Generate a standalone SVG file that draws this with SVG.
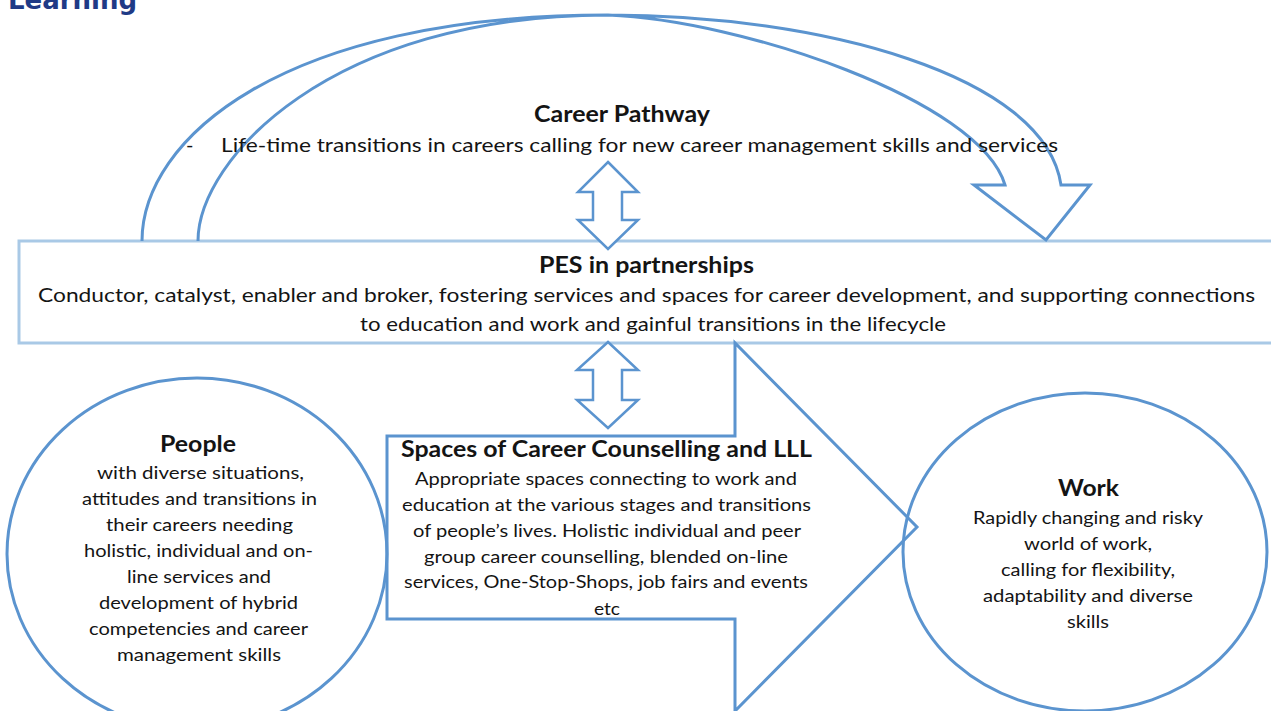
<svg xmlns="http://www.w3.org/2000/svg" width="1271" height="711" viewBox="0 0 1271 711">
<style>
.ln{fill:none;stroke:#5b94cf;stroke-width:3;stroke-linejoin:miter}
.dbl{fill:#ffffff;stroke:#5b94cf;stroke-width:2.5}
.box{fill:#ffffff;stroke:#a9c9e6;stroke-width:3}
.t{font-family:Lato,"Liberation Sans",sans-serif;fill:#141414}
.b{font-weight:bold}
.h{font-size:22px}
.m{font-size:20px}
.s{font-size:18px}
</style>
<rect width="1271" height="711" fill="#ffffff"/>
<text x="8" y="9" font-family="'DejaVu Sans',sans-serif" font-weight="bold" font-size="26" fill="#1f3a86">Learning</text>

<g id="pes">
  <rect class="box" x="19" y="241" width="1270" height="102"/>
  <text class="t b h" x="539" y="273" textLength="215" lengthAdjust="spacingAndGlyphs">PES in partnerships</text>
  <text class="t m" x="38" y="302" textLength="1217" lengthAdjust="spacingAndGlyphs">Conductor, catalyst, enabler and broker, fostering services and spaces for career development, and supporting connections</text>
  <text class="t m" x="360" y="331" textLength="586" lengthAdjust="spacingAndGlyphs">to education and work and gainful transitions in the lifecycle</text>
</g>

<g id="connectors">
  <path id="career-arc" class="ln" d="M142,241 C142,140 280,15 608,15 C820,15 1045,75 1061,185 L1090,185 L1046,240 L974,185 L1005,185 C980,100 740,20 608,15 C330,15 198,160 198,241"/>
  <path id="dbl-upper" class="dbl" d="M608,162 L638,192 L622,192 L622,220 L638,220 L608,249 L578,220 L593,220 L593,192 L578,192 Z"/>
  <path id="dbl-lower" class="dbl" d="M608,342 L638,370 L622,370 L622,400 L638,400 L608,428 L577,400 L593,400 L593,370 L577,370 Z"/>
</g>

<g id="career-pathway">
  <text class="t b h" x="534" y="122" textLength="176" lengthAdjust="spacingAndGlyphs">Career Pathway</text>
  <text class="t m" x="186" y="152">-</text>
  <text class="t m" x="221" y="152" textLength="837" lengthAdjust="spacingAndGlyphs">Life-time transitions in careers calling for new career management skills and services</text>
</g>

<g id="spaces">
  <path class="ln" d="M387,436 L735,436 L735,343 L917,527 L735,711 L735,619 L387,619 Z"/>
  <text class="t b h" x="401" y="457" textLength="411" lengthAdjust="spacingAndGlyphs">Spaces of Career Counselling and LLL</text>
  <text class="t s" x="415" y="485" textLength="382" lengthAdjust="spacingAndGlyphs">Appropriate spaces connecting to work and</text>
  <text class="t s" x="402" y="511" textLength="409" lengthAdjust="spacingAndGlyphs">education at the various stages and transitions</text>
  <text class="t s" x="413" y="537" textLength="388" lengthAdjust="spacingAndGlyphs">of people’s lives. Holistic individual and peer</text>
  <text class="t s" x="424" y="563" textLength="364" lengthAdjust="spacingAndGlyphs">group career counselling, blended on-line</text>
  <text class="t s" x="404" y="588" textLength="404" lengthAdjust="spacingAndGlyphs">services, One-Stop-Shops, job fairs and events</text>
  <text class="t s" x="594" y="615" textLength="26" lengthAdjust="spacingAndGlyphs">etc</text>
</g>

<g id="people">
  <ellipse class="ln" cx="197" cy="554" rx="190" ry="176"/>
  <text class="t b h" x="160" y="452" textLength="76" lengthAdjust="spacingAndGlyphs">People</text>
  <text class="t s" x="97" y="479" textLength="207" lengthAdjust="spacingAndGlyphs">with diverse situations,</text>
  <text class="t s" x="82" y="505" textLength="235" lengthAdjust="spacingAndGlyphs">attitudes and transitions in</text>
  <text class="t s" x="106" y="531" textLength="187" lengthAdjust="spacingAndGlyphs">their careers needing</text>
  <text class="t s" x="84" y="557" textLength="229" lengthAdjust="spacingAndGlyphs">holistic, individual and on-</text>
  <text class="t s" x="127" y="583" textLength="144" lengthAdjust="spacingAndGlyphs">line services and</text>
  <text class="t s" x="99" y="609" textLength="199" lengthAdjust="spacingAndGlyphs">development of hybrid</text>
  <text class="t s" x="89" y="635" textLength="219" lengthAdjust="spacingAndGlyphs">competencies and career</text>
  <text class="t s" x="117" y="661" textLength="164" lengthAdjust="spacingAndGlyphs">management skills</text>
</g>

<g id="work">
  <ellipse class="ln" cx="1085" cy="552" rx="182" ry="159"/>
  <text class="t b h" x="1058" y="496" textLength="61" lengthAdjust="spacingAndGlyphs">Work</text>
  <text class="t s" x="973" y="524" textLength="230" lengthAdjust="spacingAndGlyphs">Rapidly changing and risky</text>
  <text class="t s" x="1024" y="550" textLength="128" lengthAdjust="spacingAndGlyphs">world of work,</text>
  <text class="t s" x="1001" y="576" textLength="174" lengthAdjust="spacingAndGlyphs">calling for flexibility,</text>
  <text class="t s" x="983" y="602" textLength="210" lengthAdjust="spacingAndGlyphs">adaptability and diverse</text>
  <text class="t s" x="1067" y="628" textLength="42" lengthAdjust="spacingAndGlyphs">skills</text>
</g>
</svg>
